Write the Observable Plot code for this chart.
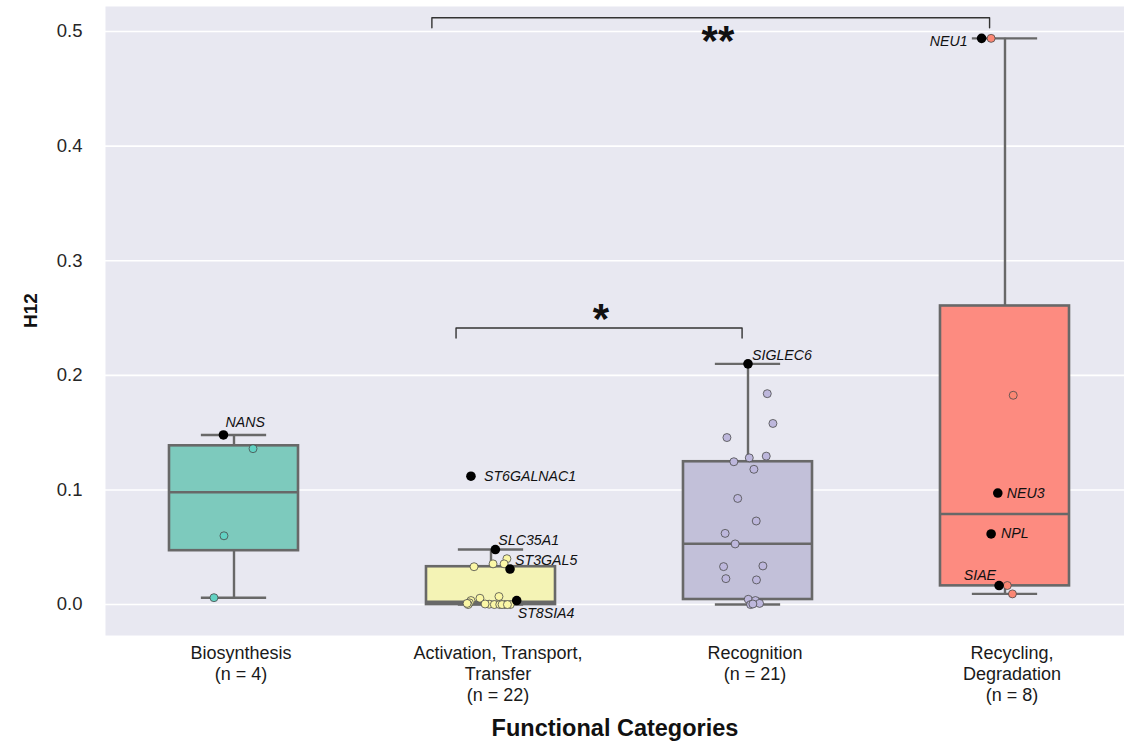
<!DOCTYPE html>
<html>
<head>
<meta charset="utf-8">
<script src="https://cdn.jsdelivr.net/npm/d3@7"></script>
<script src="https://cdn.jsdelivr.net/npm/@observablehq/plot@0.6"></script>
<style>
  body { margin: 0; background: #ffffff; }
  #chart svg { display: block; }
</style>
</head>
<body>
<div id="chart"></div>
<script>
// Functional categories of sialic-acid genes and their H12 selection scores
const categories = ["Biosynthesis", "Activation, Transport, Transfer", "Recognition", "Recycling, Degradation"];
const tickLabels = ["Biosynthesis\n(n = 4)", "Activation, Transport,\nTransfer\n(n = 22)", "Recognition\n(n = 21)", "Recycling,\nDegradation\n(n = 8)"];
const yTicks = [0, 0.1, 0.2, 0.3, 0.4, 0.5];

// Box summaries per category
const q1 = [0.047, 0.0, 0.0044, 0.0163];
const medians = [0.098, 0.0025, 0.053, 0.079];
const q3 = [0.1385, 0.033, 0.1246, 0.2605];
const whiskerLow = [0.006, 0.0, 0.0, 0.0093];
const whiskerHigh = [0.148, 0.048, 0.210, 0.494];

// Gene scores shown as a strip (jitter is the horizontal spread, in category widths)
const biosynthesisH12 = [0.136, 0.060, 0.006];
const biosynthesisJitter = [0.074, -0.039, -0.078];

const activationH12 = [0.040, 0.0355, 0.0355, 0.033, 0.007, 0.0055, 0.0035, 0.0015, 0.0, 0.001, 0.0003, 0.0005, 0.0, 0.0, 0.0, 0.0, 0.0, 0.0];
const activationJitter = [0.062, 0.008, 0.051, -0.066, 0.031, -0.043, -0.078, -0.084, -0.089, -0.093, -0.007, -0.023, 0.013, 0.034, 0.054, 0.043, 0.075, 0.064];

const recognitionH12 = [0.184, 0.158, 0.1457, 0.1295, 0.128, 0.1246, 0.118, 0.0926, 0.0729, 0.0621, 0.0529, 0.0331, 0.0337, 0.0226, 0.0215, 0.0046, 0.0035, 0.001, 0.0, 0.0005];
const recognitionJitter = [0.075, 0.097, -0.082, 0.071, 0.005, -0.055, 0.023, -0.040, 0.032, -0.089, -0.050, -0.095, 0.058, -0.086, 0.033, 0.001, 0.029, 0.045, 0.010, 0.019];

const recyclingH12 = [0.494, 0.1826, 0.0166, 0.0093];
const recyclingJitter = [-0.054, 0.032, 0.009, 0.029];

// Highlighted genes
const geneNames = ["NANS", "ST6GALNAC1", "SLC35A1", "ST3GAL5", "ST8SIA4", "SIGLEC6", "NEU1", "NEU3", "NPL", "SIAE"];
const geneCategory = [0, 1, 1, 1, 1, 2, 3, 3, 3, 3];
const geneH12 = [0.148, 0.112, 0.048, 0.031, 0.0035, 0.210, 0.494, 0.0973, 0.0616, 0.0166];
const geneJitter = [-0.041, -0.078, 0.017, 0.074, 0.100, 0.0, -0.091, -0.028, -0.054, -0.023];

// Colours
const boxFill = ["#7dcabd", "#f4f3b5", "#c2c0d9", "#fd8b80"];
const dotFill = ["#62d2c3", "#fbf7a6", "#bdb7dc", "#fb8774"];
const lineGray = "#686868";

// ---- tables built from the arrays above
const boxes = categories.map((c, i) => ({
  i, q1: q1[i], median: medians[i], q3: q3[i], lo: whiskerLow[i], hi: whiskerHigh[i], fill: boxFill[i]
}));

const strips = [
  [biosynthesisH12, biosynthesisJitter],
  [activationH12, activationJitter],
  [recognitionH12, recognitionJitter],
  [recyclingH12, recyclingJitter]
].flatMap(([vals, jit], i) => vals.map((v, k) => ({i, h12: v, jitter: jit[k], fill: dotFill[i]})));

const genes = geneNames.map((name, k) => ({
  name, i: geneCategory[k], h12: geneH12[k], jitter: geneJitter[k]
}));

// Where each gene name sits next to its dot
const labelPlacement = {
  NANS: {textAnchor: "start", dx: 2, dy: -12},
  ST6GALNAC1: {textAnchor: "start", dx: 13, dy: 0},
  SLC35A1: {textAnchor: "start", dx: 3, dy: -9},
  ST3GAL5: {textAnchor: "start", dx: 5, dy: -9},
  ST8SIA4: {textAnchor: "start", dx: 1, dy: 13},
  SIGLEC6: {textAnchor: "start", dx: 4, dy: -8},
  NEU1: {textAnchor: "end", dx: -14, dy: 3},
  NEU3: {textAnchor: "start", dx: 9, dy: 0},
  NPL: {textAnchor: "start", dx: 10, dy: 0},
  SIAE: {textAnchor: "end", dx: -3, dy: -10}
};

// Significance brackets between categories
const brackets = [
  {x1: 0.77, x2: 2.94, top: 0.512, drop: 0.0087, stars: "**", sx: 1.883, dy: 16},
  {x1: 0.864, x2: 1.977, top: 0.2413, drop: 0.0087, stars: "*", sx: 1.428, dy: -16}
];
const bracketPaths = brackets.flatMap((b, k) => [
  {k, x: b.x1, y: b.top - b.drop},
  {k, x: b.x1, y: b.top},
  {k, x: b.x2, y: b.top},
  {k, x: b.x2, y: b.top - b.drop}
]);

const font = "'Liberation Sans', Arial, sans-serif";

const chart = Plot.plot({
  width: 1124,
  height: 743,
  marginLeft: 105,
  marginRight: 0,
  marginTop: 6,
  marginBottom: 108,
  style: {fontFamily: font, background: "#ffffff", overflow: "visible"},
  x: {type: "linear", domain: [-0.5, 3.465], axis: null},
  y: {domain: [-0.027, 0.5218], axis: null},
  marks: [
    Plot.frame({fill: "#e8e8f1", stroke: "none"}),
    Plot.ruleY(yTicks, {stroke: "#ffffff", strokeWidth: 1.6}),

    // y axis
    Plot.axisY(yTicks, {
      tickSize: 0, tickPadding: 23, fontSize: 18.5, fill: "#262626",
      tickFormat: d3.format(".1f"), label: null
    }),
    Plot.text(["H12"], {
      frameAnchor: "left", dx: -75, dy: 7, rotate: -90,
      fontSize: 19, fontWeight: "bold", fill: "#111"
    }),

    // x axis labels
    Plot.axisX([0, 1, 2, 3], {
      tickSize: 0, tickPadding: 9, fontSize: 18, lineHeight: 1.15, dx: 7,
      fill: "#1a1a1a", tickFormat: i => tickLabels[i], label: null
    }),
    Plot.text(["Functional Categories"], {
      frameAnchor: "bottom", dy: 100, fontSize: 23.5, fontWeight: "bold", fill: "#111"
    }),

    // whiskers and caps
    Plot.ruleX(boxes, {x: "i", y1: "q3", y2: "hi", stroke: lineGray, strokeWidth: 2.4}),
    Plot.ruleX(boxes, {x: "i", y1: "lo", y2: "q1", stroke: lineGray, strokeWidth: 2.4}),
    Plot.ruleY(boxes, {y: "hi", x1: d => d.i - 0.127, x2: d => d.i + 0.127, stroke: lineGray, strokeWidth: 2.4}),
    Plot.ruleY(boxes, {y: "lo", x1: d => d.i - 0.127, x2: d => d.i + 0.127, stroke: lineGray, strokeWidth: 2.4}),

    // boxes and medians
    Plot.rect(boxes, {
      x1: d => d.i - 0.251, x2: d => d.i + 0.251, y1: "q1", y2: "q3",
      fill: "fill", stroke: lineGray, strokeWidth: 2.6
    }),
    Plot.ruleY(boxes, {y: "median", x1: d => d.i - 0.251, x2: d => d.i + 0.251, stroke: lineGray, strokeWidth: 2.6}),

    // strip of gene scores
    Plot.dot(strips, {
      x: d => d.i + d.jitter, y: "h12", r: 4, fill: "fill",
      stroke: "#4a4a4a", strokeWidth: 0.8
    }),

    // highlighted genes
    Plot.dot(genes, {x: d => d.i + d.jitter, y: "h12", r: 4.8, fill: "#000", stroke: "none"}),
    ...genes.map(g => Plot.text([g], {
      x: d => d.i + d.jitter, y: "h12", text: "name",
      fontSize: 14.2, fontStyle: "italic", fill: "#111",
      ...labelPlacement[g.name]
    })),

    // significance brackets
    Plot.line(bracketPaths, {x: "x", y: "y", z: "k", stroke: "#333", strokeWidth: 1.4}),
    ...brackets.map(b => Plot.text([b], {
      x: "sx", y: "top", text: "stars", dy: b.dy + 8,
      fontSize: 42, fontWeight: "bold", fill: "#111"
    }))
  ]
});

document.getElementById("chart").appendChild(chart);
</script>
</body>
</html>
